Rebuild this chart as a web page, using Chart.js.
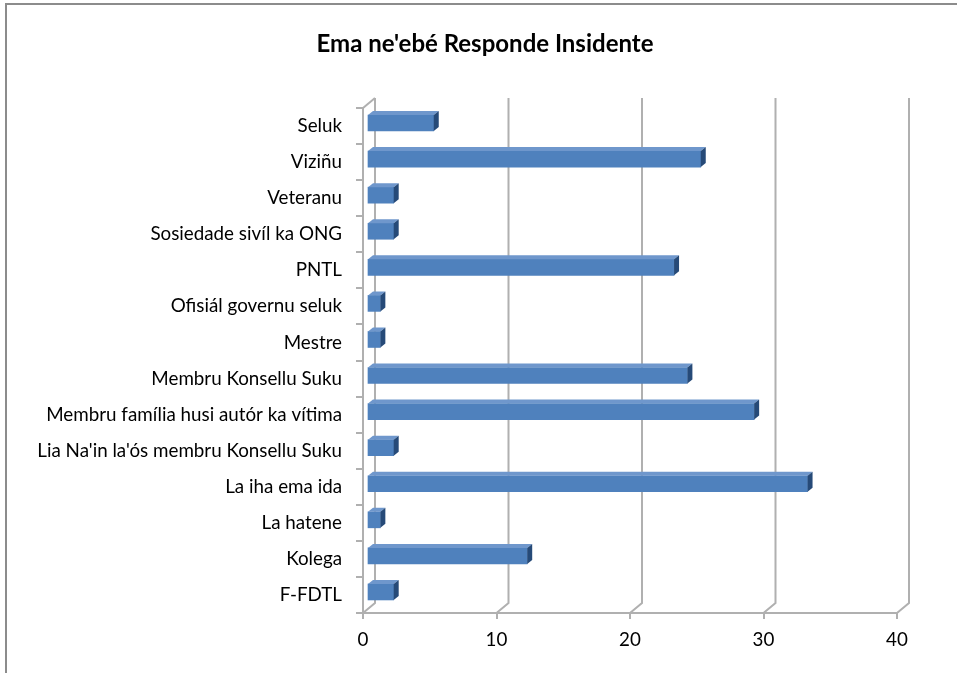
<!DOCTYPE html>
<html>
<head>
<meta charset="utf-8">
<script src="https://cdn.jsdelivr.net/npm/chart.js@4/dist/chart.umd.min.js"></script>
<style>
    html, body { margin: 0; padding: 0; background: #ffffff; }
    #wrap { position: relative; width: 957px; height: 673px; overflow: hidden; }
    #frame { position: absolute; left: 5px; top: 3px; width: 1000px; height: 700px;
             border-left: 2px solid #8c8c8c; border-top: 2px solid #8c8c8c; }
    #chart { position: absolute; left: 0; top: 0; }
</style>
</head>
<body>
<div id="wrap">
    <div id="frame"></div>
    <canvas id="chart" width="957" height="673"></canvas>
</div>
<script>
const categories = [
    'Seluk',
    'Viziñu',
    'Veteranu',
    'Sosiedade sivíl ka ONG',
    'PNTL',
    'Ofisiál governu seluk',
    'Mestre',
    'Membru Konsellu Suku',
    'Membru família husi autór ka vítima',
    "Lia Na'in la'ós membru Konsellu Suku",
    'La iha ema ida',
    'La hatene',
    'Kolega',
    'F-FDTL'
];
const responders = [5, 25, 2, 2, 23, 1, 1, 24, 29, 2, 33, 1, 12, 2];
const xTicks = [0, 10, 20, 30, 40];

const chartTitle = "Ema ne'ebé Responde Insidente";
const labelFont = 'Lato, "Open Sans", sans-serif';
const wallColor = '#b0b0b0';

// Excel-style 3D look: back wall lines, and a top/end face on each bar
const depth = { dx: 12, dy: -10 };
const barShift = { dx: 4, dy: -3 };
const cap = { dx: 5, dy: -4 };

const wallPlugin = {
    id: 'wall3d',
    beforeDatasetsDraw(chart) {
        const { ctx, chartArea, scales } = chart;
        const x = scales.x;
        ctx.save();
        ctx.strokeStyle = wallColor;
        ctx.lineWidth = 2;
        xTicks.forEach(v => {
            const px = x.getPixelForValue(v);
            ctx.beginPath();
            ctx.moveTo(px, chartArea.bottom);
            ctx.lineTo(px + depth.dx, chartArea.bottom + depth.dy);
            ctx.lineTo(px + depth.dx, chartArea.top + depth.dy);
            ctx.stroke();
        });
        // top-left corner of the side wall
        ctx.beginPath();
        ctx.moveTo(chartArea.left, chartArea.top);
        ctx.lineTo(chartArea.left + depth.dx, chartArea.top + depth.dy);
        ctx.stroke();
        ctx.restore();

        ctx.save();
        ctx.translate(barShift.dx, barShift.dy);
    },
    afterDatasetsDraw(chart) {
        const { ctx } = chart;
        const meta = chart.getDatasetMeta(0);
        meta.data.forEach(bar => {
            const p = bar.getProps(['x', 'y', 'base', 'height'], true);
            const top = p.y - p.height / 2;
            const bottom = p.y + p.height / 2;
            // top face
            ctx.fillStyle = '#6f97cc';
            ctx.beginPath();
            ctx.moveTo(p.base, top);
            ctx.lineTo(p.base + cap.dx, top + cap.dy);
            ctx.lineTo(p.x + cap.dx, top + cap.dy);
            ctx.lineTo(p.x, top);
            ctx.closePath();
            ctx.fill();
            // end face
            ctx.fillStyle = '#264a78';
            ctx.beginPath();
            ctx.moveTo(p.x, top);
            ctx.lineTo(p.x + cap.dx, top + cap.dy);
            ctx.lineTo(p.x + cap.dx, bottom + cap.dy);
            ctx.lineTo(p.x, bottom);
            ctx.closePath();
            ctx.fill();
        });
        ctx.restore();
    }
};

function barFill(context) {
    const { chart } = context;
    const bar = chart.getDatasetMeta(0).data[context.dataIndex];
    if (!bar || bar.y === undefined) return '#4f81bd';
    const top = bar.y - 8, bottom = bar.y + 8;
    const g = chart.ctx.createLinearGradient(0, top, 0, bottom);
    g.addColorStop(0, '#3f6ea9');
    g.addColorStop(0.25, '#5489c9');
    g.addColorStop(0.75, '#4f82c1');
    g.addColorStop(1, '#6d97cf');
    return g;
}

new Chart(document.getElementById('chart'), {
    type: 'bar',
    data: {
        labels: categories,
        datasets: [{
            data: responders,
            backgroundColor: barFill,
            borderWidth: 0,
            barThickness: 16
        }]
    },
    options: {
        indexAxis: 'y',
        responsive: false,
        animation: false,
        layout: { padding: { left: 13, right: 0, top: 0, bottom: 0 } },
        plugins: {
            legend: { display: false },
            tooltip: { enabled: false },
            title: {
                display: true,
                text: chartTitle,
                color: '#000000',
                font: { family: labelFont, size: 24, weight: 'bold', lineHeight: 1.2 },
                padding: { top: 29.6, bottom: 49.6 }
            }
        },
        scales: {
            x: {
                min: 0,
                max: 40,
                ticks: { stepSize: 10, color: '#000000', padding: 10, font: { family: labelFont, size: 18.8 } },
                grid: { drawOnChartArea: false, drawTicks: true, tickLength: 6, color: wallColor, lineWidth: 2 },
                border: { display: true, color: wallColor, width: 2 },
                afterFit(scale) { scale.height = 60; }
            },
            y: {
                ticks: { color: '#000000', padding: 14, font: { family: labelFont, size: 18.8 } },
                grid: { drawOnChartArea: false, drawTicks: true, tickLength: 7, color: wallColor, lineWidth: 2, offset: true },
                border: { display: true, color: wallColor, width: 2 },
                afterFit(scale) { scale.width = 350; }
            },
            // empty right-hand axis: keeps the plot clear of the right edge
            yRight: {
                type: 'category',
                position: 'right',
                labels: categories,
                ticks: { display: false },
                grid: { display: false },
                border: { display: false },
                afterFit(scale) { scale.width = 60; }
            }
        }
    },
    plugins: [wallPlugin]
});
</script>
</body>
</html>
